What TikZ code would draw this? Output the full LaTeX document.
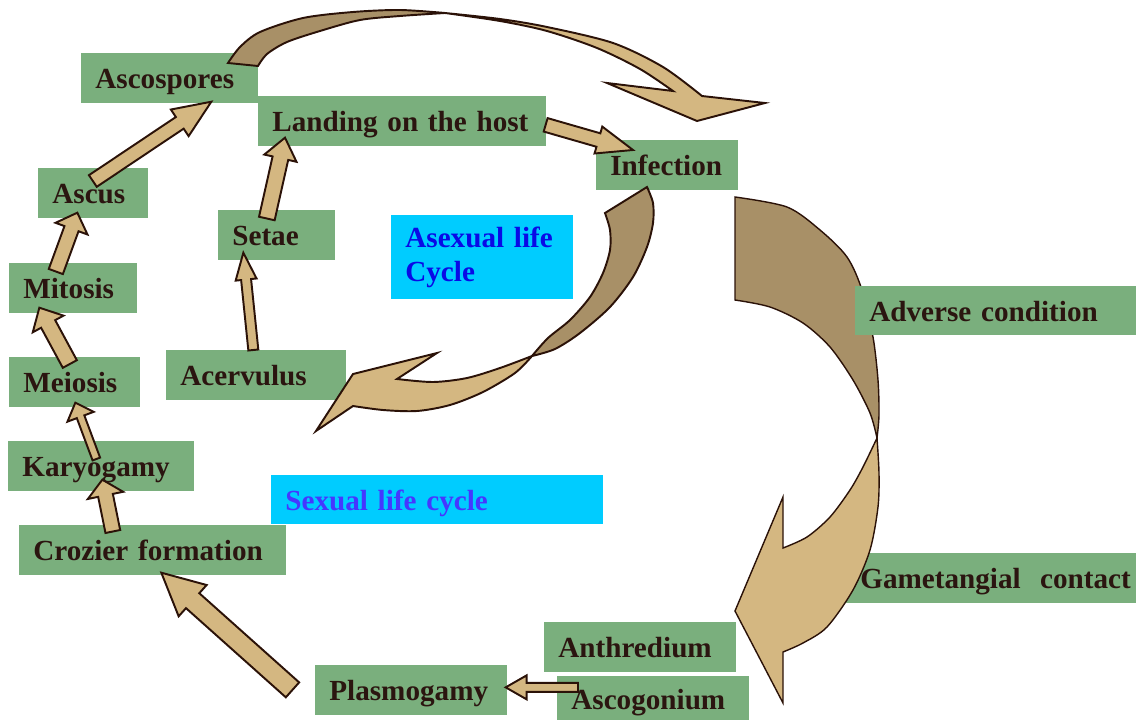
\documentclass[tikz,border=0pt]{standalone}
\usepackage{fontspec}
\setmainfont{Liberation Serif}
\usepackage{tikz}
\usetikzlibrary{calc}
\definecolor{boxgreen}{RGB}{122,175,125}
\definecolor{skyblue}{RGB}{0,204,255}
\definecolor{darktext}{RGB}{43,21,16}
\definecolor{asexblue}{RGB}{10,10,230}
\definecolor{sexblue}{RGB}{70,55,255}
\definecolor{tanlight}{RGB}{212,183,129}
\definecolor{tandark}{RGB}{168,144,103}
\definecolor{arrowline}{RGB}{43,18,8}
\pgfdeclarelayer{fills}
\pgfdeclarelayer{arrows}
\pgfsetlayers{fills,arrows,main}
\newcommand\boxfont{\fontsize{16.6}{19.3}\selectfont\bfseries\spaceskip=0.19em\relax}
\tikzset{box/.style = {text = darktext, font = \boxfont, anchor = north west, align = left, text width = #1, inner xsep = 0.28cm, inner ysep = 0pt, minimum height = 0.98cm, text height = 0.44cm, text depth = 0pt}}
\tikzset{note/.style = {box = #1, fill = skyblue}}
\tikzset{smallarrow/.style = {fill = tanlight, draw = arrowline, line width = 1.1pt}}
\tikzset{bigarrow/.style = {draw = arrowline, line width = 1.1pt}}
% tail, tip, shaft half width, head half width, head length (in px)
\newcommand\blockarrow[5]{%
  \coordinate (hb) at ($(#2)!#5*0.02cm!(#1)$);
  \filldraw[smallarrow] ($(#1)!#3*0.02cm!90:(#2)$) -- ($(hb)!#3*0.02cm!90:(#2)$) -- ($(hb)!#4*0.02cm!90:(#2)$) -- (#2)
    -- ($(hb)!#4*0.02cm!-90:(#2)$) -- ($(hb)!#3*0.02cm!-90:(#2)$) -- ($(#1)!#3*0.02cm!-90:(#2)$) -- cycle;}

\begin{document}
\begin{tikzpicture}[x = 0.02cm, y = -0.02cm]
  \useasboundingbox (0,0) rectangle (1136,720);
  \node[box = 2.96cm] (ascospores) at (81,53) {Ascospores};
  \node[box = 5.18cm] (landing) at (258,96) {Landing on the host};
  \node[box = 2.26cm] (infection) at (596,140) {Infection};
  \node[box = 1.62cm] (ascus) at (38,168) {Ascus};
  \node[box = 1.76cm] (setae) at (218,210) {Setae};
  \node[note = 3.08cm, minimum height = 1.68cm, text height = {}, text depth = {}, text = asexblue] (asexual) at (391,215) {Asexual life\\Cycle};
  \node[box = 1.98cm] (mitosis) at (9,263) {Mitosis};
  \node[box = 5.06cm, fill = boxgreen] (adverse) at (855,286) {Adverse condition};
  \node[box = 2.04cm] (meiosis) at (9,357) {Meiosis};
  \node[box = 3.02cm] (acervulus) at (166,350) {Acervulus};
  \node[box = 3.14cm] (karyogamy) at (8,441) {Karyogamy};
  \node[note = 6.08cm, text = sexblue] (sexual) at (271,475) {Sexual life cycle};
  \node[box = 4.76cm] (crozier) at (19,525) {Crozier formation};
  \node[box = 5.24cm] (gametangial) at (846,553) {\mbox{Gametangial\ \ contact}};
  \node[box = 3.26cm] (anthredium) at (544,622) {Anthredium};
  \node[box = 3.26cm, minimum height = 0.88cm] (ascogonium) at (557,676) {Ascogonium};
  \node[box = 3.26cm] (plasmogamy) at (315,665) {Plasmogamy};

  \begin{pgfonlayer}{fills}
    \foreach \n in {ascospores, landing, infection, ascus, setae, mitosis, meiosis, acervulus, karyogamy, crozier, gametangial, anthredium, ascogonium, plasmogamy}
      \fill[boxgreen] (\n.north west) rectangle (\n.south east);
  \end{pgfonlayer}

  \coordinate (ascusT) at ($(ascus.north)+(0,13)$);
  \coordinate (ascosporesP) at ($(ascospores.south)+(42,-1)$);
  \coordinate (mitosisT) at ($(mitosis.north)+(-17,8.5)$);
  \coordinate (ascusP) at ($(ascus.south)+(-15.5,-5)$);
  \coordinate (meiosisT) at ($(meiosis.north)+(-4.5,7)$);
  \coordinate (mitosisP) at ($(mitosis.south)+(-33.5,-5)$);
  \coordinate (karyogamyT) at ($(karyogamy.north)+(-4.5,18)$);
  \coordinate (meiosisP) at ($(meiosis.south)+(1,-4)$);
  \coordinate (crozierT) at ($(crozier.north)+(-39.5,6.5)$);
  \coordinate (karyogamyP) at ($(karyogamy.south)+(1.5,-11)$);
  \coordinate (plasmogamyT) at ($(plasmogamy.west)+(-22.5,0)$);
  \coordinate (crozierP) at ($(crozier.south)+(9,-2)$);
  \coordinate (ascogoniumT) at ($(ascogonium.west)+(21,-11)$);
  \coordinate (plasmogamyP) at ($(plasmogamy.east)+(-1,-2.5)$);
  \coordinate (acervulusT) at ($(acervulus.north)+(-2.5,0)$);
  \coordinate (setaeP) at ($(setae.south)+(-33,-7)$);
  \coordinate (setaeT) at ($(setae.north)+(-9.5,8.5)$);
  \coordinate (landingP) at ($(landing.south west)+(27,-8)$);
  \coordinate (landingT) at ($(landing.east)+(0,4)$);
  \coordinate (infectionP) at ($(infection.north west)+(37,10)$);

  \begin{pgfonlayer}{arrows}
    \filldraw[bigarrow, fill = tandark] plot[smooth] coordinates {(228,63) (240,47) (260,32) (303,18) (353,12) (400,10) (445,13)}
      -- plot[smooth] coordinates {(445,13) (400,16) (360,20) (320,31) (287,42) (267,54) (258,66)} -- cycle;
    \filldraw[bigarrow, fill = tanlight] plot[smooth] coordinates {(445,13) (500,19) (547,27) (613,43) (663,67) (702,96)}
      -- (765,103) -- (697,121) -- (607,83) -- (673,91)
      -- plot[smooth] coordinates {(673,91) (640,69) (597,48) (547,31) (500,21) (445,13)} -- cycle;

    \filldraw[bigarrow, fill = tandark] (605,213) -- plot[smooth] coordinates {(647,187) (653,203) (653,223) (647,247) (633,277) (610,307) (580,333) (555,349) (532,356)}
      -- plot[smooth] coordinates {(532,356) (548,338) (570,320) (590,297) (603,273) (610,250) (610,230) (605,213)} -- cycle;
    \filldraw[bigarrow, fill = tanlight] plot[smooth] coordinates {(532,356) (500,368) (467,378) (433,382) (397,379)}
      -- (437,353) -- (353,374) -- (316,431) -- (353,406)
      -- plot[smooth] coordinates {(353,406) (383,410) (417,411) (450,405) (483,392) (515,373) (532,356)} -- cycle;

    \filldraw[bigarrow, line width = 0.8pt, fill = tandark] plot[smooth] coordinates {(735,197) (787,207) (820,230) (847,257) (862,290) (873,337) (878,380) (879,415) (877,438)}
      -- plot[smooth] coordinates {(877,438) (870,413) (853,380) (830,347) (803,323) (770,307) (735,300)} -- cycle;
    \filldraw[bigarrow, line width = 0.8pt, fill = tanlight] plot[smooth] coordinates {(877,438) (879,473) (878,507) (870,550) (853,590) (827,627) (803,643) (783,652)}
      -- (783,703) -- (735,611) -- (783,497) -- (783,548)
      -- plot[smooth] coordinates {(783,548) (807,537) (830,517) (850,490) (863,467) (877,438)} -- cycle;

    \blockarrow{ascusT}{ascosporesP}{7}{16}{38}
    \blockarrow{mitosisT}{ascusP}{7.5}{17}{17}
    \blockarrow{meiosisT}{mitosisP}{8}{17.5}{18.5}
    \blockarrow{karyogamyT}{meiosisP}{4}{14}{15}
    \blockarrow{crozierT}{karyogamyP}{7.5}{18}{16}
    \blockarrow{plasmogamyT}{crozierP}{10}{21}{42}
    \blockarrow{ascogoniumT}{plasmogamyP}{4.5}{12}{21}
    \blockarrow{acervulusT}{setaeP}{5}{10.5}{27}
    \blockarrow{setaeT}{landingP}{8}{16.5}{21}
    \blockarrow{landingT}{infectionP}{7}{14}{36}
  \end{pgfonlayer}
\end{tikzpicture}
\end{document}
